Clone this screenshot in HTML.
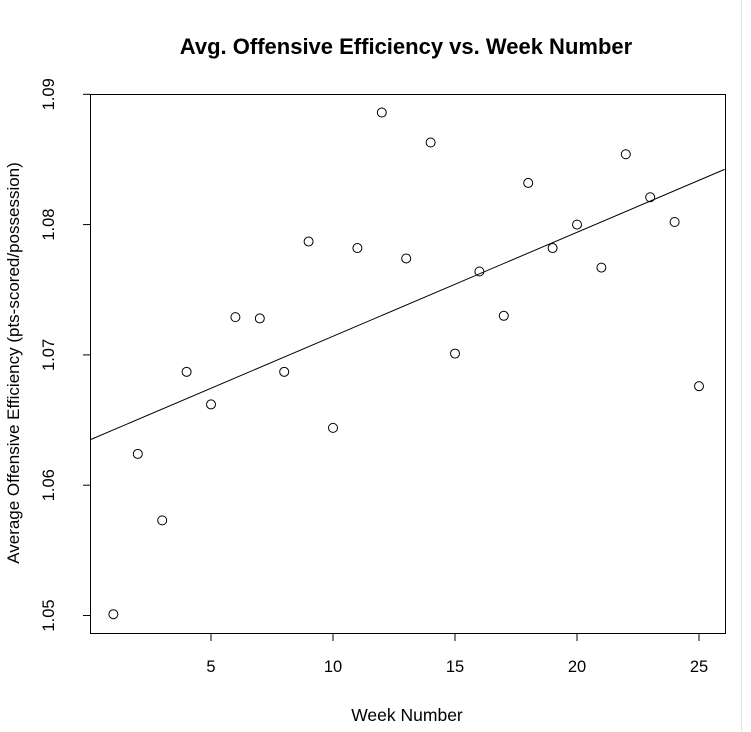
<!DOCTYPE html>
<html><head><meta charset="utf-8"><style>
html,body{margin:0;padding:0;background:#fff;}
svg{display:block;font-family:"Liberation Sans",Arial,sans-serif;}
</style></head><body>
<svg id="chart" width="751" height="732" viewBox="0 0 751 732">
<text x="406" y="54" text-anchor="middle" font-size="22" font-weight="bold">Avg. Offensive Efficiency vs. Week Number</text>
<text x="407" y="721" text-anchor="middle" font-size="17.5">Week Number</text>
<text transform="translate(19,363) rotate(-90)" text-anchor="middle" font-size="17">Average Offensive Efficiency (pts-scored/possession)</text>
<rect x="90.5" y="94.5" width="635" height="539" fill="none" stroke="#000" stroke-width="1"/>
<line x1="741.5" y1="0" x2="741.5" y2="732" stroke="#e4e4e4"/>
<g id="axes"></g>
<g id="marks"></g>
</svg>
<script>
const weeks = [1,2,3,4,5,6,7,8,9,10,11,12,13,14,15,16,17,18,19,20,21,22,23,24,25];
const efficiency = [1.0501,1.0624,1.0573,1.0687,1.0662,1.0729,1.0728,1.0687,1.0787,1.0644,1.0782,1.0886,1.0774,1.0863,1.0701,1.0764,1.0730,1.0832,1.0782,1.0800,1.0767,1.0854,1.0821,1.0802,1.0676];
const xTicks = [5,10,15,20,25];
const yTicks = [1.05,1.06,1.07,1.08,1.09];
const yTickLabels = ["1.05","1.06","1.07","1.08","1.09"];

const NS="http://www.w3.org/2000/svg";
function sx(v){return 113.4+(v-1)*24.4;}
function sy(v){return 615.5-(v-1.05)*13030;}
const axes=document.getElementById('axes'), marks=document.getElementById('marks');
function mk(tag,attrs,parent){const e=document.createElementNS(NS,tag);for(const k in attrs)e.setAttribute(k,attrs[k]);parent.appendChild(e);return e;}

xTicks.forEach((t)=>{
  const x=sx(t);
  const l=mk('line',{x1:x,y1:634,x2:x,y2:641,stroke:'#000'},axes);
  
  
  const tx=mk('text',{x:x,y:672,'text-anchor':'middle','font-size':16.5},axes);
  tx.textContent=t;
  
  
});
yTicks.forEach((t,i)=>{
  const y=sy(t);
  const l=mk('line',{x1:83,y1:y,x2:90,y2:y,stroke:'#000'},axes);
  
  
  const tx=mk('text',{transform:`translate(54,${y}) rotate(-90)`,'text-anchor':'middle','font-size':16.5},axes);
  tx.textContent=yTickLabels[i];
  
  
});
const n=weeks.length;
const mx=weeks.reduce((a,b)=>a+b,0)/n, my=efficiency.reduce((a,b)=>a+b,0)/n;
let sxy=0,sxx=0;
for(let i=0;i<n;i++){sxy+=(weeks[i]-mx)*(efficiency[i]-my);sxx+=(weeks[i]-mx)**2;}
const slope=sxy/sxx, icpt=my-slope*mx;
const x0=0.06,x1=26.05;
const rl=mk('line',{x1:sx(x0),y1:sy(icpt+slope*x0),x2:sx(x1),y2:sy(icpt+slope*x1),stroke:'#000','stroke-width':1},marks);


weeks.forEach((w,i)=>{
  const c=mk('circle',{cx:sx(w),cy:sy(efficiency[i]),r:4.5,fill:'none',stroke:'#000','stroke-width':1},marks);
  
  
});
</script>
</body></html>
